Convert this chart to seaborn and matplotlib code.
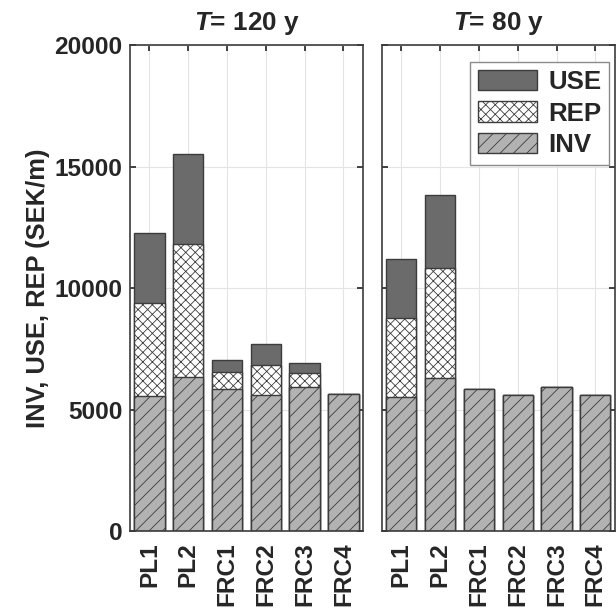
import pandas as pd
import matplotlib
matplotlib.use("Agg")
import matplotlib.pyplot as plt
import seaborn as sns

# costs per scheme, SEK/m
schemes = ["PL1", "PL2", "FRC1", "FRC2", "FRC3", "FRC4"]
periods = ["120", "80"]
inv = {"120": [5550, 6320, 5860, 5610, 5940, 5650],
       "80": [5510, 6280, 5840, 5580, 5910, 5590]}
rep = {"120": [3830, 5500, 700, 1210, 560, 0],
       "80": [3240, 4530, 0, 0, 0, 0]}
use = {"120": [2890, 3680, 480, 890, 430, 0],
       "80": [2450, 3000, 0, 0, 0, 0]}

rows = []
for T in periods:
    for i, s in enumerate(schemes):
        rows.append({"T": T, "scheme": s, "INV": inv[T][i], "REP": rep[T][i], "USE": use[T][i]})
df = pd.DataFrame(rows)
df["INV_REP"] = df["INV"] + df["REP"]
df["TOTAL"] = df["INV_REP"] + df["USE"]

sns.set_theme(style="white")
plt.rcParams["font.family"] = ["Liberation Sans", "DejaVu Sans"]
plt.rcParams["font.weight"] = "bold"
plt.rcParams["mathtext.fontset"] = "custom"
plt.rcParams["mathtext.it"] = "Liberation Sans:italic:bold"
plt.rcParams["mathtext.rm"] = "Liberation Sans:bold"
plt.rcParams["hatch.linewidth"] = 0.3

edge = "#3c3c3c"
layers = [("TOTAL", "#6b6b6b", "", "USE"),
          ("INV_REP", "white", "xxxxxxx", "REP"),
          ("INV", "#b2b2b2", "/////", "INV")]

fig = plt.figure(figsize=(3.08, 3.045), dpi=200)
ax1 = fig.add_axes([0.211, 0.128, 0.378, 0.798])
ax2 = fig.add_axes([0.620, 0.128, 0.378, 0.798], sharey=ax1)

for ax, T in [(ax1, "120"), (ax2, "80")]:
    d = df[df["T"] == T]
    for col, color, hatch, lab in layers:
        sns.barplot(data=d, x="scheme", y=col, order=schemes, color=color, saturation=1,
                    hatch=hatch, edgecolor=edge, linewidth=0.5, width=0.78,
                    errorbar=None, label=lab, ax=ax)
    if ax.get_legend() is not None:
        ax.get_legend().remove()
    ax.set_xlim(-0.5, 5.5)
    ax.set_ylim(0, 20000)
    ax.set_yticks([0, 5000, 10000, 15000, 20000])
    ax.grid(True, color="#e4e4e4", linewidth=0.4)
    ax.set_axisbelow(True)
    for sp in ax.spines.values():
        sp.set_color(edge)
        sp.set_linewidth(0.6)
    ax.tick_params(direction="in", top=True, right=True, bottom=True, left=True,
                   length=2.2, width=0.6, color="#222222", labelsize=8.8, pad=2.8)
    ax.tick_params(axis="x", pad=4.2)
    plt.setp(ax.get_xticklabels(), rotation=90, fontweight="bold")
    plt.setp(ax.get_yticklabels(), fontweight="bold")
    ax.set_xlabel("")
    ax.set_ylabel("")
    ax.set_title("$T$= %s y" % T, fontsize=9.4, fontweight="bold", pad=5.5)

ax2.tick_params(labelleft=False)
ax1.set_ylabel("INV, USE, REP (SEK/m)", fontsize=9.2, fontweight="bold", labelpad=1.5)

leg = ax2.legend(loc="upper right", bbox_to_anchor=(0.975, 0.965), borderaxespad=0,
                 handlelength=2.3, handleheight=0.85, labelspacing=0.28,
                 handletextpad=0.42, borderpad=0.3, fancybox=False, framealpha=1,
                 edgecolor="#8a8a8a", prop={"weight": "bold", "size": 9.3})
leg.get_frame().set_linewidth(0.5)

fig.savefig("out.png", dpi=200)
